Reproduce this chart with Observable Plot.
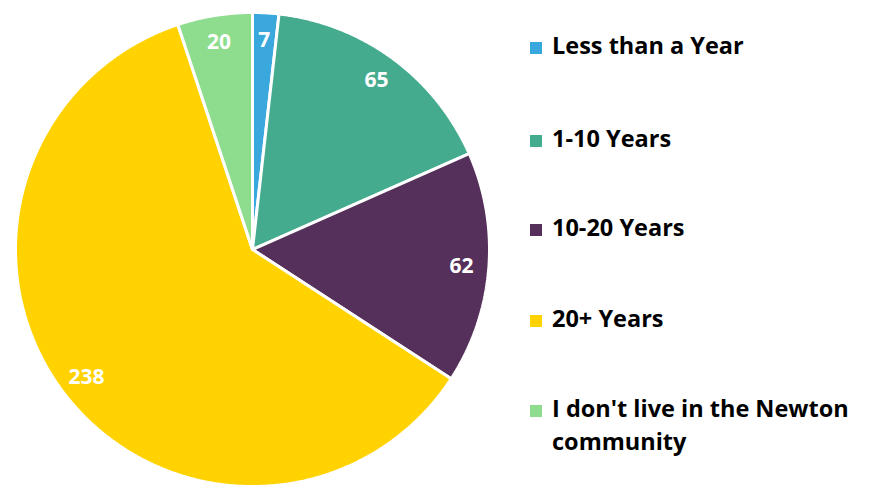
<!DOCTYPE html>
<html>
<head>
<meta charset="utf-8">
<script src="https://cdn.jsdelivr.net/npm/d3@7"></script>
<script src="https://cdn.jsdelivr.net/npm/@observablehq/plot@0.6"></script>
<style>
  html, body { margin: 0; padding: 0; background: #fff; }
  #wrap { position: relative; width: 875px; height: 491px; font-family: "Open Sans", Lato, sans-serif; }
  #chart { position: absolute; left: 0; top: 0; }
  .item { position: absolute; left: 530px; font-weight: 700; font-size: 23.5px; line-height: 33px; color: #000; }
  .sw { position: absolute; left: 0; width: 12px; height: 12px; }
  .lbl { position: absolute; left: 22px; width: 340px; white-space: normal; }
</style>
</head>
<body>
<div id="wrap"><div id="chart"></div></div>
<script>
const categories = ["Less than a Year", "1-10 Years", "10-20 Years", "20+ Years", "I don't live in the Newton community"];
const values = [7, 65, 62, 238, 20];
const colors = ["#3AA7DD", "#45AB8E", "#55305A", "#FFD200", "#8EDD8E"];
const legendLines = [["Less than a Year"], ["1-10 Years"], ["10-20 Years"], ["20+ Years"], ["I don't live in the Newton", "community"]];

const data = categories.map((c, i) => ({category: c, value: values[i]}));
const arcs = d3.pie().sort(null).value(d => d.value)(data);

// polygon points for each slice (unit circle; angle 0 = north, clockwise)
const poly = [];
arcs.forEach(a => {
  const k = a.data.category;
  poly.push({k, x: 0, y: 0});
  const n = Math.max(2, Math.ceil((a.endAngle - a.startAngle) / 0.005));
  for (let j = 0; j <= n; j++) {
    const t = a.startAngle + (a.endAngle - a.startAngle) * j / n;
    poly.push({k, x: Math.sin(t), y: Math.cos(t)});
  }
  poly.push({k, x: 0, y: 0});
});
const labelR = 0.885;
const labels = arcs.map(a => {
  const m = (a.startAngle + a.endAngle) / 2;
  return {k: a.data.category, v: a.data.value, x: labelR * Math.sin(m), y: labelR * Math.cos(m)};
});

const plot = Plot.plot({
  width: 875,
  height: 491,
  margin: 0,
  x: {domain: [-1, 1], range: [15, 489], axis: null},
  y: {domain: [-1, 1], range: [486, 12], axis: null},
  color: {domain: categories, range: colors},
  style: {background: "#fff"},
  marks: [
    Plot.line(poly, {x: "x", y: "y", z: "k", fill: "k", stroke: "#fff", strokeWidth: 3, strokeLinejoin: "miter", curve: "linear"}),
    Plot.text(labels, {x: "x", y: "y", text: d => String(d.v), fill: "#fff", fontSize: 21, fontWeight: "bold", fontFamily: "'Open Sans', Lato, sans-serif", textAnchor: "middle", dy: 0})
  ]
});
document.getElementById("chart").appendChild(plot);

const tops = [29, 122, 211, 302, 392];
const wrap = document.getElementById("wrap");
categories.forEach((c, i) => {
  const it = document.createElement("div");
  it.className = "item";
  it.style.top = tops[i] + "px";
  const sw = document.createElement("div");
  sw.className = "sw";
  sw.style.background = colors[i];
  sw.style.top = "13px";
  const lb = document.createElement("div");
  lb.className = "lbl";
  lb.innerHTML = legendLines[i].join("<br>");
  it.appendChild(sw);
  it.appendChild(lb);
  wrap.appendChild(it);
});
</script>
</body>
</html>
